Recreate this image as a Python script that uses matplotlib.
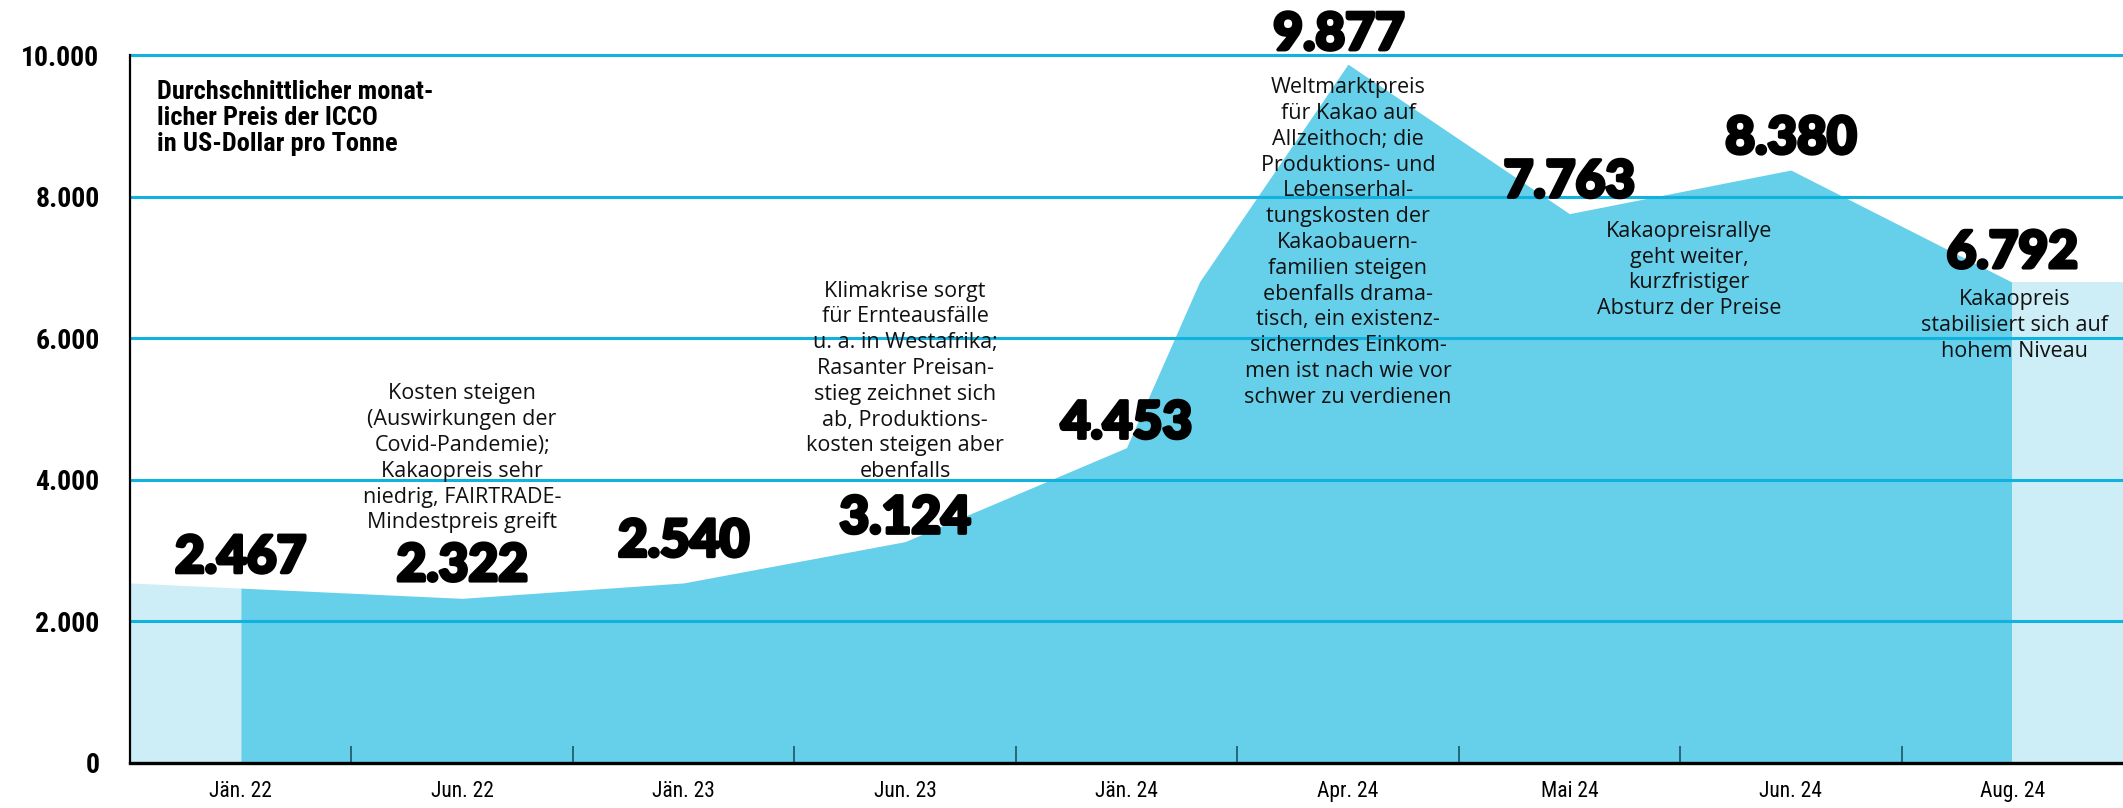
import numpy as np
import matplotlib.pyplot as plt
import matplotlib.patheffects as pe
from matplotlib.ticker import FuncFormatter

# ---- data ----
months = ["Jän. 22", "Jun. 22", "Jän. 23", "Jun. 23", "Jän. 24",
          "Apr. 24", "Mai 24", "Jun. 24", "Aug. 24"]
prices = [2467, 2322, 2540, 3124, 4453, 9877, 7763, 8380, 6792]

# outline of the shaded area (one extra bend between Jän. 24 and Apr. 24)
shape_pos = [0, 1, 2, 3, 4, 4.33, 5, 6, 7, 8]
shape_vals = [2467, 2322, 2540, 3124, 4453, 6800, 9877, 7763, 8380, 6792]

lead_in = [2540, 2467]     # light area before Jän. 22
lead_out = [6792, 6792]    # light area after Aug. 24

notes = [
    "Kosten steigen\n(Auswirkungen der\nCovid-Pandemie);\nKakaopreis sehr\nniedrig, FAIRTRADE-\nMindestpreis greift",
    "Klimakrise sorgt\nfür Ernteausfälle\nu. a. in Westafrika;\nRasanter Preisan-\nstieg zeichnet sich\nab, Produktions-\nkosten steigen aber\nebenfalls",
    "Weltmarktpreis\nfür Kakao auf\nAllzeithoch; die\nProduktions- und\nLebenserhal-\ntungskosten der\nKakaobauern-\nfamilien steigen\nebenfalls drama-\ntisch, ein existenz-\nsicherndes Einkom-\nmen ist nach wie vor\nschwer zu verdienen",
    "Kakaopreisrallye\ngeht weiter,\nkurzfristiger\nAbsturz der Preise",
    "Kakaopreis\nstabilisiert sich auf\nhohem Niveau",
]
note_x = [1, 3, 5.0, 6.54, 8.01]
note_y = [4300, 5390, 7355, 6966, 6181]

# offsets of the big value labels (pixels)
label_dx = [0, 0, 0, 0, 0, -9, 0, 0, 0]
label_dy = [30, 32, 41, 23, 24, 29, 31, 31, 29]

dark = "#66cfea"
light = "#cdeef7"
grid_col = "#12b2de"
narrow = ["Liberation Sans Narrow", "Roboto Condensed", "Noto Sans Condensed",
          "DejaVu Sans Condensed", "Roboto"]

fig = plt.figure(figsize=(21.23, 8.08), dpi=100)
ax = fig.add_axes([130 / 2123, (808 - 762.5) / 808, 1993 / 2123, 762.5 / 808])

x = np.arange(len(months))

# shaded areas
ax.fill_between(shape_pos, shape_vals, 0, color=dark, lw=0, zorder=1)
ax.fill_between([-0.5, 0], lead_in, 0, color=light, lw=0, zorder=1)
ax.fill_between([8, 8.5], lead_out, 0, color=light, lw=0, zorder=1)

ax.set_xlim(-0.5, 8.5)
ax.set_ylim(0, 10785)

# grid
ax.set_axisbelow(False)
ax.set_yticks(np.arange(0, 10001, 2000))
ax.yaxis.grid(True, color=grid_col, lw=2.2, zorder=2)
ax.xaxis.grid(False)
ax.yaxis.set_major_formatter(FuncFormatter(lambda v, p: f"{int(v):,}".replace(",", ".")))

for s in ["top", "right"]:
    ax.spines[s].set_visible(False)
ax.spines["left"].set_linewidth(1.6)
ax.spines["left"].set_bounds(0, 10000)
ax.spines["bottom"].set_linewidth(2.4)
ax.spines["left"].set_zorder(4)
ax.spines["bottom"].set_zorder(4)

ax.set_xticks(x)
ax.set_xticklabels(months, fontfamily=narrow, fontsize=15.5)
ax.set_xticks(x[:-1] + 0.5, minor=True)
ax.tick_params(axis="x", which="major", length=0, pad=13)
ax.tick_params(axis="x", which="minor", direction="in", length=12,
               width=1.2, color="#1c5568")
ax.tick_params(axis="y", length=0, pad=22)
for lab in ax.get_yticklabels():
    lab.set_fontfamily(narrow)
    lab.set_fontweight("bold")
    lab.set_fontsize(20)

# big value labels
for i, v in enumerate(prices):
    ax.annotate(f"{v:,}".replace(",", "."), (x[i], v),
                xytext=(label_dx[i], label_dy[i]), textcoords="offset pixels",
                ha="center", va="center", fontsize=37, fontweight=900,
                fontfamily="Lato", color="black", zorder=5,
                path_effects=[pe.withStroke(linewidth=2.5, foreground="black")])

# notes
for t, nx, ny in zip(notes, note_x, note_y):
    ax.text(nx, ny, t, ha="center", va="center", multialignment="center",
            fontsize=15.5, fontfamily="Open Sans", color="#111111",
            linespacing=1.3, zorder=5)

# title
ax.text(-0.38, 9650, "Durchschnittlicher monat-\nlicher Preis der ICCO\nin US-Dollar pro Tonne",
        ha="left", va="top", fontsize=19, fontweight="bold",
        fontfamily=narrow, linespacing=1.1, zorder=5)

fig.savefig("out.png", dpi=100)
